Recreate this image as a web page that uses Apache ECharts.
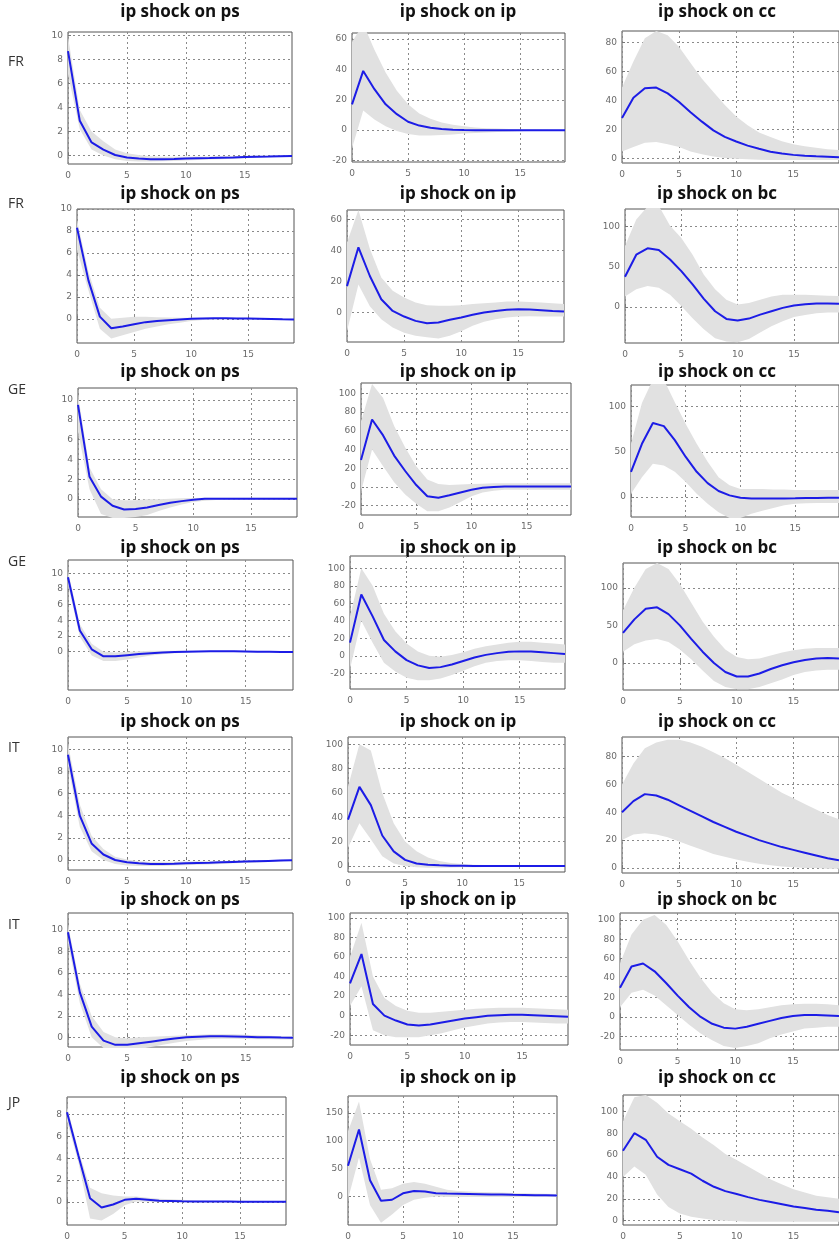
<!DOCTYPE html>
<html>
<head>
<meta charset="utf-8">
<script src="https://cdn.jsdelivr.net/npm/echarts@6/dist/echarts.min.js"></script>
<style>
html,body{margin:0;padding:0;background:#fff}
#chart{width:839px;height:1241px}
</style>
</head>
<body>
<div id="chart"></div>
<script>
// Impulse horizons (x axis)
const horizons = ['0','1','2','3','4','5','6','7','8','9','10','11','12','13','14','15','16','17','18','19'];

// Row labels and panel titles
const rowLabels = ['FR', 'FR', 'GE', 'GE', 'IT', 'IT', 'JP'];
const titlesCc = ['ip shock on ps', 'ip shock on ip', 'ip shock on cc'];
const titlesBc = ['ip shock on ps', 'ip shock on ip', 'ip shock on bc'];

// Y tick values
const ticksPs10 = [0, 2, 4, 6, 8, 10];
const ticksPs8 = [0, 2, 4, 6, 8];
const ticksIp60 = [-20, 0, 20, 40, 60];
const ticksIp60b = [0, 20, 40, 60];
const ticksIp100 = [-20, 0, 20, 40, 60, 80, 100];
const ticksIp100b = [0, 20, 40, 60, 80, 100];
const ticksIp150 = [0, 50, 100, 150];
const ticksCc80 = [0, 20, 40, 60, 80];
const ticksCc100 = [0, 20, 40, 60, 80, 100];
const ticks50 = [0, 50, 100];
const ticksBc100 = [-20, 0, 20, 40, 60, 80, 100];

// FR (cc system)
const fr1PsMid = [8.7, 2.9, 1.1, 0.5, 0.05, -0.15, -0.25, -0.3, -0.3, -0.28, -0.25, -0.22, -0.2, -0.17, -0.15, -0.12, -0.1, -0.08, -0.05, -0.03];
const fr1PsHi  = [9.9, 3.8, 2.0, 1.2, 0.5, 0.2, 0.05, -0.05, -0.1, -0.1, -0.1, -0.08, -0.07, -0.05, -0.04, -0.03, -0.02, -0.01, 0.0, 0.02];
const fr1PsLo  = [6.8, 2.2, 0.5, 0.0, -0.3, -0.45, -0.5, -0.5, -0.48, -0.45, -0.4, -0.37, -0.33, -0.3, -0.26, -0.22, -0.18, -0.14, -0.1, -0.07];
const fr1IpMid = [17, 39, 27, 17, 10.5, 5.5, 3, 1.5, 0.7, 0.3, 0.1, 0, 0, 0, 0, 0, 0, 0, 0, 0];
const fr1IpHi  = [58, 70, 53, 38, 26, 17, 11, 7.5, 5, 3.5, 2.5, 1.8, 1.3, 1, 0.8, 0.6, 0.5, 0.4, 0.3, 0.3];
const fr1IpLo  = [-12, 13, 7, 2.5, -0.5, -2.5, -3.5, -3.5, -3.2, -2.8, -2.3, -1.9, -1.5, -1.2, -1, -0.8, -0.6, -0.5, -0.4, -0.3];
const fr1CcMid = [28, 42, 48.5, 49, 45, 39, 32, 25.5, 19.5, 15, 11.8, 9, 6.8, 4.8, 3.5, 2.6, 2.0, 1.6, 1.3, 1.0];
const fr1CcHi  = [49, 67, 83, 88, 85, 77, 66, 55, 46, 37, 29, 23, 18, 15, 12, 10, 8.5, 7.5, 6.5, 6];
const fr1CcLo  = [5, 8, 11, 11.5, 10, 8, 5, 3, 1.5, 0.5, 0, -0.5, -0.8, -1, -1, -1, -1, -1, -1, -1];

// FR (bc system)
const fr2PsMid = [8.3, 3.5, 0.2, -0.85, -0.7, -0.5, -0.3, -0.2, -0.12, -0.06, 0, 0.03, 0.05, 0.05, 0.04, 0.02, 0, -0.02, -0.04, -0.05];
const fr2PsHi  = [9, 4.3, 1.0, 0.0, 0.1, 0.2, 0.2, 0.15, 0.12, 0.1, 0.1, 0.1, 0.1, 0.1, 0.1, 0.08, 0.06, 0.04, 0.02, 0.0];
const fr2PsLo  = [6.3, 2.6, -0.9, -1.8, -1.5, -1.2, -0.9, -0.7, -0.5, -0.35, -0.2, -0.1, -0.05, -0.02, -0.02, -0.04, -0.06, -0.08, -0.1, -0.1];
const fr2IpMid = [17, 42, 23.5, 8.5, 1, -2.6, -5.4, -6.9, -6.5, -4.7, -3.2, -1.5, 0, 1, 1.7, 2.1, 2, 1.5, 0.9, 0.6];
const fr2IpHi  = [45, 66, 41, 22.6, 14, 9.7, 6.5, 4.7, 4.3, 4.3, 4.7, 5.4, 6, 6.5, 7, 7, 6.8, 6.5, 6, 5.5];
const fr2IpLo  = [-12, 18, 4, -4.3, -9.7, -13, -15, -16, -16.8, -15, -12, -8.6, -6, -4.3, -3.2, -2.6, -2.4, -2.5, -2.6, -2.6];
const fr2BcMid = [37.5, 65, 73, 71, 59, 44.6, 28, 10, -5.4, -15, -17, -14.6, -9.6, -5.4, -1.2, 1.7, 3.3, 4.2, 4.2, 3.8];
const fr2BcHi  = [76, 109, 125, 126, 101, 86, 65, 40, 22, 9, 3, 5, 9, 13, 15, 15, 15, 14.5, 14, 13.5];
const fr2BcLo  = [13, 22, 26, 24, 15, 1, -14, -28, -39, -43, -44, -40, -32, -24, -18, -12.5, -10, -8, -7, -7];

// GE (cc system)
const ge1PsMid = [9.5, 2.25, 0.25, -0.67, -1.04, -1.0, -0.84, -0.6, -0.37, -0.2, -0.07, 0.03, 0.05, 0.05, 0.05, 0.05, 0.05, 0.05, 0.05, 0.05];
const ge1PsHi  = [10.5, 3.2, 1.0, 0.0, -0.1, -0.1, 0.0, 0.0, 0.05, 0.1, 0.12, 0.15, 0.15, 0.15, 0.15, 0.15, 0.15, 0.15, 0.15, 0.15];
const ge1PsLo  = [6.8, 1.0, -1.5, -1.9, -1.9, -1.8, -1.6, -1.2, -0.85, -0.55, -0.3, -0.15, -0.08, -0.05, -0.05, -0.05, -0.05, -0.05, -0.05, -0.05];
const ge1IpMid = [28.8, 72, 55, 33.5, 17, 2, -10, -11.5, -9, -6, -3, -1, 0, 0.5, 0.5, 0.5, 0.5, 0.5, 0.5, 0.5];
const ge1IpHi  = [70, 110, 95, 65, 42, 22, 8, 3, 2, 2.5, 3, 3.5, 4, 4, 4, 4, 4, 4, 4, 4];
const ge1IpLo  = [-5, 40, 22, 5, -8, -18, -26, -26, -22, -16, -10, -6, -4, -3, -3, -3, -3, -3, -3, -3];
const ge1CcMid = [28, 59, 82, 78.5, 63, 44.4, 28, 15.5, 6.7, 1.9, -0.7, -1.5, -1.5, -1.5, -1.4, -1.3, -1.1, -0.9, -0.7, -0.6];
const ge1CcHi  = [59, 104, 130, 130, 105, 81, 59, 39, 22, 13, 9, 9, 9, 8.5, 8.5, 8, 8, 8, 8, 8];
const ge1CcLo  = [3.7, 22, 37, 35, 28, 16.7, 3.7, -7.4, -16.7, -23, -23, -18.5, -15, -12, -9, -7.4, -6.7, -6.5, -6.5, -6.5];

// GE (bc system)
const ge2PsMid = [9.5, 2.7, 0.3, -0.6, -0.6, -0.45, -0.3, -0.2, -0.1, -0.05, 0, 0.03, 0.05, 0.05, 0.04, 0.02, 0, -0.02, -0.04, -0.05];
const ge2PsHi  = [10.3, 3.5, 1.0, 0.0, -0.1, 0.0, 0.05, 0.1, 0.12, 0.12, 0.12, 0.12, 0.12, 0.12, 0.1, 0.08, 0.06, 0.04, 0.02, 0.0];
const ge2PsLo  = [8.5, 1.9, -0.5, -1.2, -1.2, -1.0, -0.75, -0.5, -0.35, -0.2, -0.1, -0.05, -0.02, -0.02, -0.03, -0.05, -0.07, -0.09, -0.1, -0.1];
const ge2IpMid = [15, 70, 45, 18, 5, -5, -11, -14, -13, -10, -6, -2, 1, 3, 4.5, 5, 4.8, 4, 3, 2];
const ge2IpHi  = [45, 100, 80, 48, 28, 14, 5, 0, -1, 1, 4, 8, 11, 13, 15, 16, 16, 15, 14, 13];
const ge2IpLo  = [-15, 40, 15, -8, -18, -25, -28, -28, -26, -22, -17, -12, -8, -6, -5, -5, -6, -7, -8, -8];
const ge2BcMid = [40, 58, 72, 74, 65, 50, 32, 15, 0, -12, -18, -18, -14, -8, -3, 1, 4, 6, 6.5, 6];
const ge2BcHi  = [70, 100, 125, 133, 125, 105, 80, 55, 35, 18, 8, 5, 6, 10, 14, 17, 19, 20, 20, 20];
const ge2BcLo  = [15, 25, 30, 32, 28, 18, 5, -10, -24, -32, -35, -35, -32, -27, -22, -16, -12, -10, -9, -9];

// IT (cc system)
const it1PsMid = [9.5, 4, 1.5, 0.5, 0.0, -0.2, -0.3, -0.35, -0.35, -0.33, -0.3, -0.27, -0.24, -0.2, -0.17, -0.14, -0.11, -0.08, -0.05, -0.03];
const it1PsHi  = [10.5, 5, 2.2, 1, 0.3, 0.05, -0.1, -0.15, -0.15, -0.15, -0.13, -0.12, -0.1, -0.08, -0.06, -0.04, -0.02, 0, 0.02, 0.03];
const it1PsLo  = [8.5, 3, 0.8, 0, -0.35, -0.5, -0.55, -0.55, -0.55, -0.5, -0.47, -0.43, -0.4, -0.35, -0.3, -0.26, -0.22, -0.18, -0.14, -0.1];
const it1IpMid = [38, 65, 50, 25, 12, 5, 2, 1, 0.5, 0.2, 0.1, 0, 0, 0, 0, 0, 0, 0, 0, 0];
const it1IpHi  = [65, 100, 95, 60, 35, 20, 12, 7, 4, 2.5, 1.5, 1, 0.8, 0.6, 0.5, 0.4, 0.3, 0.3, 0.3, 0.3];
const it1IpLo  = [15, 35, 22, 8, 2, 0, -1, -1.5, -1.5, -1.3, -1.1, -1, -0.8, -0.6, -0.5, -0.4, -0.3, -0.3, -0.3, -0.3];
const it1CcMid = [40, 48, 53, 52, 49, 45, 41, 37, 33, 29.5, 26, 23, 20, 17.5, 15, 13, 11, 9, 7, 5.5];
const it1CcHi  = [60, 75, 86, 90, 92, 92, 90, 87, 83, 79, 74, 69, 64, 59, 54, 50, 46, 42, 38, 35];
const it1CcLo  = [20, 24, 25, 24, 22, 19, 16, 13, 10, 8, 6, 4.5, 3, 2, 1, 0.5, 0, 0, -0.5, -0.5];

// IT (bc system)
const it2PsMid = [9.8, 4.2, 1.0, -0.3, -0.7, -0.7, -0.55, -0.4, -0.25, -0.1, 0, 0.05, 0.1, 0.1, 0.08, 0.05, 0.02, 0, -0.02, -0.03];
const it2PsHi  = [10.5, 5, 2, 0.5, 0, -0.1, 0, 0.05, 0.1, 0.15, 0.2, 0.25, 0.3, 0.3, 0.28, 0.25, 0.2, 0.15, 0.1, 0.1];
const it2PsLo  = [8.8, 3.2, 0, -1, -1.3, -1.3, -1.1, -0.9, -0.7, -0.5, -0.35, -0.25, -0.15, -0.12, -0.12, -0.15, -0.17, -0.18, -0.2, -0.2];
const it2IpMid = [33, 63, 12, 0, -5, -9, -10, -9, -7, -5, -3, -1.5, 0, 0.5, 1, 1, 0.5, 0, -0.5, -1];
const it2IpHi  = [60, 95, 40, 18, 10, 5, 3, 3, 4, 5, 6, 7, 7.5, 8, 8, 8, 7.5, 7, 6.5, 6];
const it2IpLo  = [10, 30, -15, -20, -22, -22, -22, -20, -18, -15, -12, -10, -8, -7, -6.5, -6.5, -7, -7.5, -8, -8];
const it2BcMid = [30, 52, 55, 47, 35, 22, 10, 0, -7, -11, -12, -10, -7, -4, -1, 1, 2, 2, 1.5, 1];
const it2BcHi  = [55, 85, 100, 105, 95, 78, 58, 40, 25, 14, 8, 7, 8, 10, 12, 13, 13.5, 13.5, 13, 12];
const it2BcLo  = [10, 25, 28, 22, 12, 2, -8, -17, -24, -30, -32, -30, -27, -22, -18, -15, -12, -11, -10, -10];

// JP (cc system)
const jpPsMid = [8.2, 4.2, 0.35, -0.5, -0.23, 0.2, 0.29, 0.2, 0.11, 0.09, 0.06, 0.05, 0.05, 0.04, 0.04, 0.03, 0.03, 0.03, 0.02, 0.02];
const jpPsHi  = [8.7, 4.7, 1.3, 0.8, 0.6, 0.5, 0.5, 0.4, 0.3, 0.25, 0.2, 0.15, 0.12, 0.1, 0.1, 0.08, 0.08, 0.07, 0.06, 0.06];
const jpPsLo  = [7.4, 3.6, -1.5, -1.7, -1.1, -0.3, 0.05, 0.02, 0.0, 0.0, 0.0, 0.0, 0.0, 0.0, 0.0, 0.0, 0.0, 0.0, 0.0, 0.0];
const jpIpMid = [55, 120, 29, -7.6, -5.8, 5.8, 10, 8.8, 6, 5.3, 5, 4.6, 4.2, 3.8, 3.4, 3, 2.7, 2.4, 2.1, 1.8];
const jpIpHi  = [117, 170, 67, 12, 15, 23, 26, 23, 17.5, 12, 10, 9, 8, 7.5, 7, 6.5, 6, 5.5, 5, 4.5];
const jpIpLo  = [-5, 70, -15, -47, -32, -15, -6, -2, 0, -1, -1, -1, -1, -1, -1, -1, -1, -1, -1, -1];
const jpCcMid = [64, 80, 74, 58.5, 51, 47, 43, 36.5, 31, 27, 24.3, 21.5, 19, 17, 15, 13, 11.6, 10, 9, 7.7];
const jpCcHi  = [91, 113, 115, 108, 98, 91, 84, 76, 69, 61, 55.5, 49.6, 43.6, 37.7, 33, 28.8, 25.8, 22.8, 21.4, 20];
const jpCcLo  = [40, 49.6, 42, 24, 12.5, 6.5, 3.6, 2, 0.6, 0, -0.5, -1, -1, -1, -1, -1, -1, -1, -1, -1];

// Panels, row by row: responses, y range and y ticks
const panels = [
  [fr1PsMid, fr1PsLo, fr1PsHi, -0.7, 10.3, ticksPs10],
  [fr1IpMid, fr1IpLo, fr1IpHi, -21, 64, ticksIp60],
  [fr1CcMid, fr1CcLo, fr1CcHi, -3, 88, ticksCc80],
  [fr2PsMid, fr2PsLo, fr2PsHi, -2.2, 10, ticksPs10],
  [fr2IpMid, fr2IpLo, fr2IpHi, -19, 66, ticksIp60b],
  [fr2BcMid, fr2BcLo, fr2BcHi, -45, 122, ticks50],
  [ge1PsMid, ge1PsLo, ge1PsHi, -1.8, 11.2, ticksPs10],
  [ge1IpMid, ge1IpLo, ge1IpHi, -30, 111, ticksIp100],
  [ge1CcMid, ge1CcLo, ge1CcHi, -22, 124, ticks50],
  [ge2PsMid, ge2PsLo, ge2PsHi, -4.9, 11.7, ticksPs10],
  [ge2IpMid, ge2IpLo, ge2IpHi, -38, 114, ticksIp100],
  [ge2BcMid, ge2BcLo, ge2BcHi, -36, 133, ticks50],
  [it1PsMid, it1PsLo, it1PsHi, -0.9, 11.1, ticksPs10],
  [it1IpMid, it1IpLo, it1IpHi, -5, 106, ticksIp100b],
  [it1CcMid, it1CcLo, it1CcHi, -3.6, 94, ticksCc80],
  [it2PsMid, it2PsLo, it2PsHi, -0.9, 11.6, ticksPs10],
  [it2IpMid, it2IpLo, it2IpHi, -30, 105, ticksIp100],
  [it2BcMid, it2BcLo, it2BcHi, -34, 107, ticksBc100],
  [jpPsMid, jpPsLo, jpPsHi, -2.1, 9.6, ticksPs8],
  [jpIpMid, jpIpLo, jpIpHi, -51, 180, ticksIp150],
  [jpCcMid, jpCcLo, jpCcHi, -4, 115, ticksCc100]
];

// Plot boxes [left, top, right, bottom] in px
const boxes = [
  [68, 32, 292, 164], [352, 33, 565, 162], [622, 31, 841, 163],
  [77, 209, 294, 343], [347, 210, 564, 342], [625, 209, 841, 343],
  [78, 388, 297, 517], [361, 383, 571, 515], [631, 385, 845, 517],
  [68, 560, 293, 690], [350, 556, 565, 689], [623, 563, 841, 690],
  [68, 737, 292, 870], [348, 737, 565, 872], [622, 737, 841, 873],
  [68, 913, 293, 1047], [350, 913, 568, 1045], [620, 913, 841, 1050],
  [67, 1097, 286, 1233], [348, 1096, 557, 1227], [623, 1095, 839, 1228]
];
const titleY = [12, 194, 372, 548, 722, 900, 1078];
const titleX = [180, 458, 717];
const rowLabelY = [62, 204, 390, 562, 748, 925, 1103];

const gridLine = { show: true, lineStyle: { color: '#8a8a8a', width: 1, type: [2, 3] } };
const labelFont = { fontSize: 9, color: '#6a6a6a', fontFamily: 'DejaVu Sans' };

const grid = [], xAxis = [], yAxis = [], series = [], graphic = [];

panels.forEach((p, i) => {
  const [mid, lo, hi, yMin, yMax, ticks] = p;
  const b = boxes[i];
  grid.push({
    left: b[0], top: b[1], width: b[2] - b[0], height: b[3] - b[1],
    show: true, borderColor: '#555', borderWidth: 1, backgroundColor: 'transparent'
  });
  xAxis.push({
    gridIndex: i, type: 'category', data: horizons, boundaryGap: false,
    axisLine: { show: false },
    axisTick: { show: true, inside: true, length: 3, interval: 4, lineStyle: { color: '#777' } },
    axisLabel: Object.assign({ interval: 4, margin: 7 }, labelFont),
    splitLine: Object.assign({ interval: 4 }, gridLine)
  });
  yAxis.push({
    gridIndex: i, type: 'value', min: yMin, max: yMax,
    axisLine: { show: false },
    axisTick: { show: true, inside: true, length: 3, customValues: ticks, lineStyle: { color: '#777' } },
    axisLabel: Object.assign({ customValues: ticks, margin: 5 }, labelFont),
    splitLine: gridLine
  });
  // confidence band: lower bound plus stacked width
  const band = hi.map((v, k) => +(v - lo[k]).toFixed(4));
  series.push({
    type: 'line', xAxisIndex: i, yAxisIndex: i, data: lo,
    stack: 'band' + i, stackStrategy: 'all', symbol: 'none', silent: true,
    lineStyle: { opacity: 0 }, z: 1
  });
  series.push({
    type: 'line', xAxisIndex: i, yAxisIndex: i, data: band,
    stack: 'band' + i, stackStrategy: 'all', symbol: 'none', silent: true,
    lineStyle: { opacity: 0 }, areaStyle: { color: '#e1e1e1', opacity: 1 }, z: 1
  });
  // median response
  series.push({
    type: 'line', xAxisIndex: i, yAxisIndex: i, data: mid,
    symbol: 'none', silent: true,
    lineStyle: { color: '#1c1ce6', width: 2 }, z: 3
  });
});

rowLabels.forEach((lab, r) => {
  const titles = (r % 2 === 0) ? titlesCc : titlesBc;
  graphic.push({
    type: 'text', x: 8, y: rowLabelY[r],
    style: { text: lab, font: '14px "Open Sans"', fill: '#333', textVerticalAlign: 'middle' }
  });
  titles.forEach((t, c) => {
    graphic.push({
      type: 'text', x: titleX[c], y: titleY[r],
      style: { text: t, font: 'bold 17px "Open Sans"', fill: '#111', textAlign: 'center', textVerticalAlign: 'middle' }
    });
  });
});

const chart = echarts.init(document.getElementById('chart'), null, { renderer: 'canvas' });
chart.setOption({
  animation: false,
  backgroundColor: '#fff',
  grid, xAxis, yAxis, series, graphic
});
</script>
</body>
</html>
